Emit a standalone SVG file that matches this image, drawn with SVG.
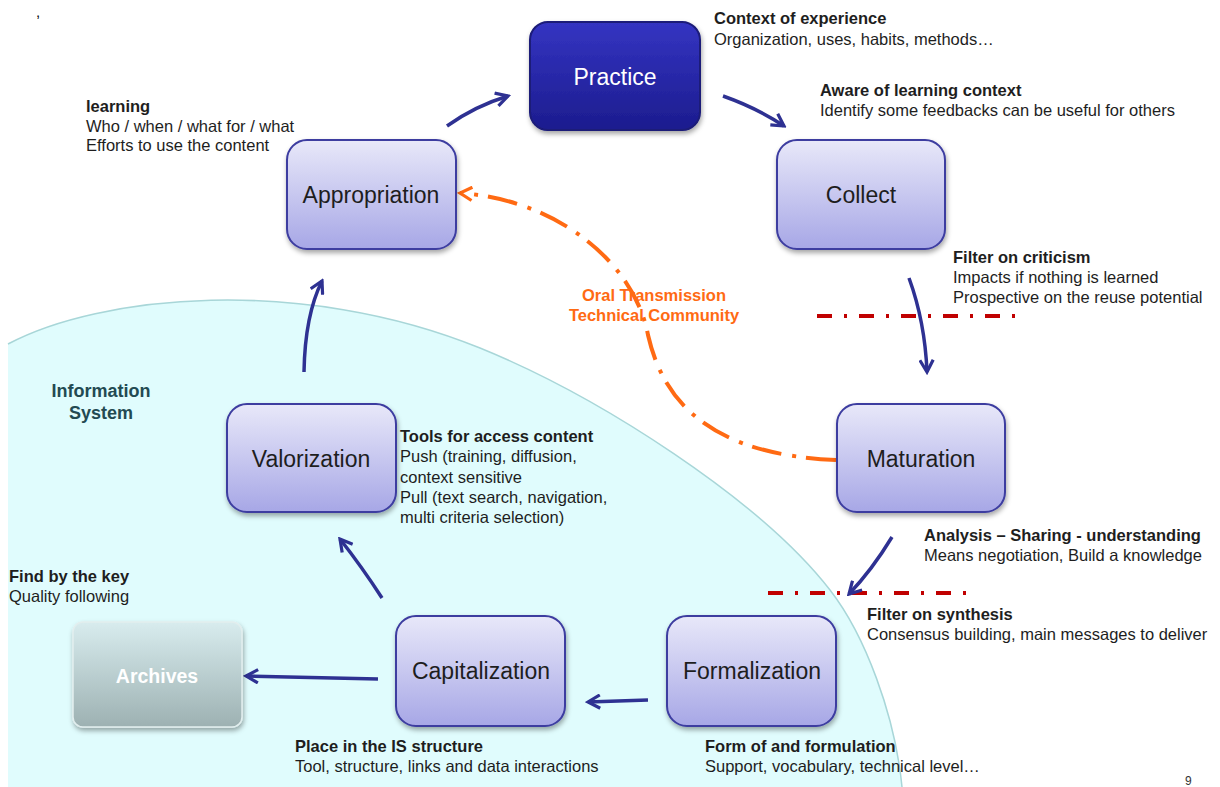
<svg xmlns="http://www.w3.org/2000/svg" width="1220" height="787" viewBox="0 0 1220 787">
<style>
  .lbl{font-family:"Liberation Sans",Arial,sans-serif;font-size:23px;fill:#1e1e1e;text-anchor:middle}
  .ann{font-family:"Liberation Sans",Arial,sans-serif;font-size:16.5px;fill:#1e1e1e}
  .b{font-weight:bold}
  .node{fill:url(#gNode);stroke:#3c3ca0;stroke-width:2;filter:url(#sh)}
  .arr{fill:none;stroke:#2e3192;stroke-width:3.5;marker-end:url(#ah)}
  .red{fill:none;stroke:#c00000;stroke-width:4;stroke-dasharray:15 12 3 12}
</style>
<defs>
  <linearGradient id="gNode" x1="0" y1="0" x2="0" y2="1">
    <stop offset="0" stop-color="#e8e8f9"/>
    <stop offset="1" stop-color="#a7a7e6"/>
  </linearGradient>
  <linearGradient id="gPr" x1="0" y1="0" x2="0" y2="1">
    <stop offset="0" stop-color="#3434c2"/>
    <stop offset="1" stop-color="#1c1c8e"/>
  </linearGradient>
  <linearGradient id="gAr" x1="0" y1="0" x2="0" y2="1">
    <stop offset="0" stop-color="#d8ecee"/>
    <stop offset="1" stop-color="#9db1b2"/>
  </linearGradient>
  <filter id="sh" x="-20%" y="-20%" width="140%" height="150%">
    <feDropShadow dx="1" dy="3" stdDeviation="2.5" flood-color="#000" flood-opacity="0.35"/>
  </filter>
  <marker id="ah" viewBox="0 0 12 12" refX="10" refY="6" markerWidth="16" markerHeight="16" markerUnits="userSpaceOnUse" orient="auto">
    <path d="M1,1 L10,6 L1,11" fill="none" stroke="#2e3192" stroke-width="2.4"/>
  </marker>
  <marker id="ao" viewBox="0 0 12 12" refX="10" refY="6" markerWidth="16" markerHeight="16" markerUnits="userSpaceOnUse" orient="auto">
    <path d="M1,1 L10,6 L1,11" fill="none" stroke="#ff6a13" stroke-width="2.4"/>
  </marker>
</defs>

<rect width="1220" height="787" fill="#ffffff"/>

<g id="information-system">
  <path d="M8 344 C100 295 300 275 480 348 C600 397 760 500 830 590 C865 635 895 715 902 787 L8 787 Z" fill="#e0fcfd"/>
  <path d="M8 344 C100 295 300 275 480 348 C600 397 760 500 830 590 C865 635 895 715 902 787" fill="none" stroke="#a8d6d8" stroke-width="1.5"/>
  <text x="101" y="397" class="ann b" style="font-size:18px;fill:#234a52;text-anchor:middle">Information</text>
  <text x="101" y="419" class="ann b" style="font-size:18px;fill:#234a52;text-anchor:middle">System</text>
</g>

<text x="36" y="17" class="ann" style="font-size:15px;fill:#000000">,</text>

<g id="filters">
  <line x1="817" y1="316" x2="1016" y2="316" class="red"/>
  <line x1="768" y1="593" x2="967" y2="593" class="red"/>
</g>

<g id="connectors">
  <path class="arr" d="M447 126 Q475 106 508 96"/>
  <path class="arr" d="M723 96 Q757 108 784 126"/>
  <path class="arr" d="M909 278 Q925 322 927 372"/>
  <path class="arr" d="M892 537 Q872 570 849 594"/>
  <path class="arr" d="M648 700 L588 702"/>
  <path class="arr" d="M382 598 Q362 567 340 539"/>
  <path class="arr" d="M304 372 Q305 315 322 281"/>
  <path class="arr" d="M378 679 L246 676"/>
  <path d="M836 460 C720 455 665 410 648 335 C635 265 560 200 460 193" fill="none" stroke="#ff6a13" stroke-width="4" stroke-dasharray="30 10 4 11" marker-end="url(#ao)"/>
</g>

<g id="practice">
  <rect x="530" y="22" width="170" height="108" rx="18" fill="url(#gPr)" stroke="#1a1a78" stroke-width="2" filter="url(#sh)"/>
  <text x="615" y="85" class="lbl" style="fill:#ffffff">Practice</text>
</g>
<g id="collect">
  <rect x="777" y="140" width="168" height="109" rx="20" class="node"/>
  <text x="861" y="203" class="lbl">Collect</text>
</g>
<g id="maturation">
  <rect x="837" y="404" width="168" height="108" rx="20" class="node"/>
  <text x="921" y="467" class="lbl">Maturation</text>
</g>
<g id="formalization">
  <rect x="667" y="616" width="169" height="110" rx="20" class="node"/>
  <text x="752" y="679" class="lbl">Formalization</text>
</g>
<g id="capitalization">
  <rect x="396" y="616" width="169" height="110" rx="20" class="node"/>
  <text x="481" y="679" class="lbl">Capitalization</text>
</g>
<g id="valorization">
  <rect x="227" y="404" width="169" height="108" rx="20" class="node"/>
  <text x="311" y="467" class="lbl">Valorization</text>
</g>
<g id="appropriation">
  <rect x="287" y="140" width="169" height="109" rx="20" class="node"/>
  <text x="371" y="203" class="lbl">Appropriation</text>
</g>
<g id="archives">
  <rect x="73" y="622" width="169" height="105" rx="10" fill="url(#gAr)" stroke="#e2eeee" stroke-width="1.5" filter="url(#sh)"/>
  <text x="157" y="683" class="lbl b" style="fill:#ffffff;font-size:19.5px">Archives</text>
</g>

<g id="annotations">
  <text x="86" y="112" class="ann b">learning</text>
  <text x="86" y="132" class="ann">Who / when / what for / what</text>
  <text x="86" y="151" class="ann">Efforts to use the content</text>

  <text x="714" y="24" class="ann b">Context of experience</text>
  <text x="714" y="45" class="ann">Organization, uses, habits, methods…</text>

  <text x="820" y="96" class="ann b">Aware of learning context</text>
  <text x="820" y="116" class="ann">Identify some feedbacks can be useful for others</text>

  <text x="953" y="263" class="ann b">Filter on criticism</text>
  <text x="953" y="283" class="ann">Impacts if nothing is learned</text>
  <text x="953" y="303" class="ann">Prospective on the reuse potential</text>

  <text x="654" y="301" class="ann b" style="fill:#ff6a13;text-anchor:middle">Oral Transmission</text>
  <text x="654" y="321" class="ann b" style="fill:#ff6a13;text-anchor:middle">Technical Community</text>

  <text x="400" y="442" class="ann b">Tools for access content</text>
  <text x="400" y="462" class="ann">Push (training, diffusion,</text>
  <text x="400" y="483" class="ann">context sensitive</text>
  <text x="400" y="503" class="ann">Pull (text search, navigation,</text>
  <text x="400" y="523" class="ann">multi criteria selection)</text>

  <text x="924" y="541" class="ann b">Analysis – Sharing - understanding</text>
  <text x="924" y="561" class="ann">Means negotiation, Build a knowledge</text>

  <text x="867" y="620" class="ann b">Filter on synthesis</text>
  <text x="867" y="640" class="ann">Consensus building, main messages to deliver</text>

  <text x="9" y="582" class="ann b">Find by the key</text>
  <text x="9" y="602" class="ann">Quality following</text>

  <text x="295" y="752" class="ann b">Place in the IS structure</text>
  <text x="295" y="772" class="ann">Tool, structure, links and data interactions</text>

  <text x="705" y="752" class="ann b">Form of and formulation</text>
  <text x="705" y="772" class="ann">Support, vocabulary, technical level…</text>

  <text x="1185" y="785" class="ann" style="font-size:12px;fill:#333">9</text>
</g>
</svg>
